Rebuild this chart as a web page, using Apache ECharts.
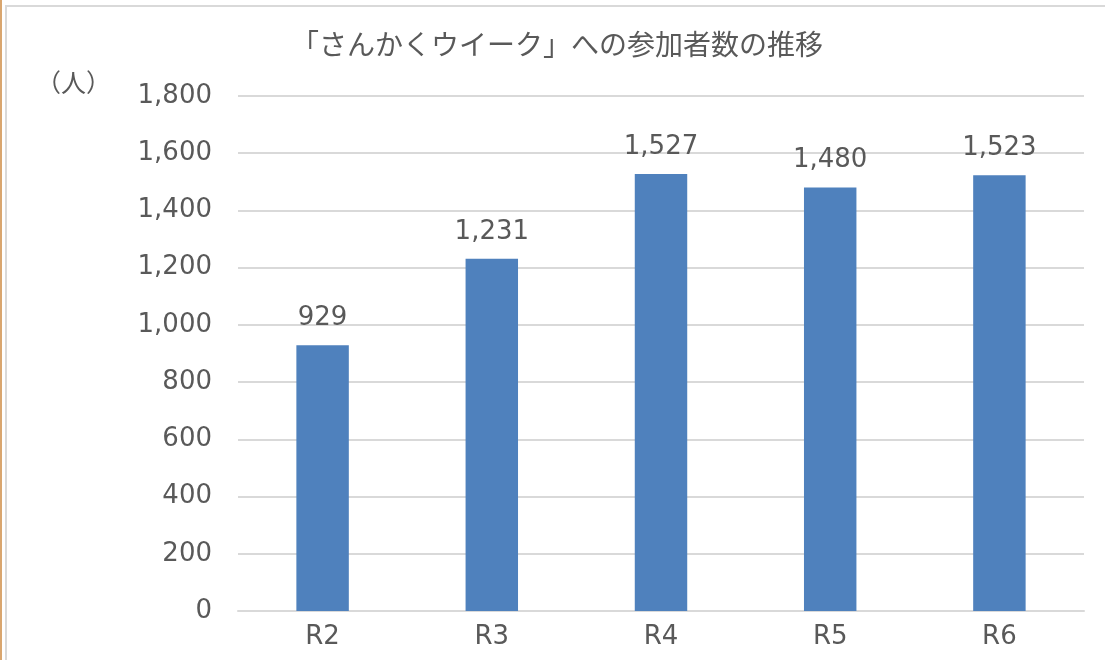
<!DOCTYPE html>
<html>
<head>
<meta charset="utf-8">
<script src="https://cdn.jsdelivr.net/npm/echarts@6/dist/echarts.min.js"></script>
<style>
  html, body { margin: 0; padding: 0; background: #fff; }
  #main { width: 1105px; height: 660px; }
</style>
</head>
<body>
<div id="main"></div>
<script>
// 年度と参加者数
var categories = ['R2', 'R3', 'R4', 'R5', 'R6'];
var participants = [929, 1231, 1527, 1480, 1523];
var yTicks = [0, 200, 400, 600, 800, 1000, 1200, 1400, 1600, 1800];

var fontJP = '"Noto Sans CJK JP", "Noto Sans", sans-serif';
var fontNum = '"DejaVu Sans", "Noto Sans CJK JP", sans-serif';
var textColor = '#595959';

var myChart = echarts.init(document.getElementById('main'));

var option = {
    backgroundColor: '#ffffff',
    animation: false,
    title: {
        text: '「さんかくウイーク」への参加者数の推移',
        left: 552,
        top: 25,
        textAlign: 'center',
        textStyle: {
            color: textColor,
            fontFamily: fontJP,
            fontSize: 28,
            fontWeight: 'normal'
        }
    },
    graphic: [
        // 外枠(左の茶色線とグレー枠)
        { type: 'line', shape: { x1: 1, y1: 0, x2: 1, y2: 660 }, style: { stroke: '#d9a66f', lineWidth: 2 } },
        { type: 'polyline', shape: { points: [[6, 660], [6, 6], [1105, 6]] }, style: { stroke: '#d9d9d9', lineWidth: 2, fill: null } },
        {
            type: 'text', left: 36, top: 70,
            style: { text: '（人）', fill: textColor, font: '25px ' + fontJP }
        }
    ],
    grid: {
        left: 238,
        right: 21,
        top: 96,
        bottom: 49
    },
    xAxis: {
        type: 'category',
        data: categories,
        axisTick: { show: false },
        axisLine: { lineStyle: { color: '#d9d9d9', width: 2 } },
        axisLabel: {
            color: textColor,
            fontFamily: fontNum,
            fontSize: 26,
            margin: 13
        }
    },
    yAxis: {
        type: 'value',
        min: yTicks[0],
        max: yTicks[yTicks.length - 1],
        interval: 200,
        axisLine: { show: false },
        axisTick: { show: false },
        splitLine: { lineStyle: { color: '#d9d9d9', width: 2 } },
        axisLabel: {
            color: textColor,
            fontFamily: fontNum,
            fontSize: 26,
            margin: 26,
            padding: [4, 0, 0, 0],
            formatter: function (v) { return v.toLocaleString('en-US'); }
        }
    },
    series: [{
        type: 'bar',
        data: participants,
        barWidth: '31%',
        itemStyle: { color: '#4f81bd' },
        label: {
            show: true,
            position: 'top',
            distance: 14,
            color: textColor,
            fontFamily: fontNum,
            fontSize: 26,
            formatter: function (p) { return p.value.toLocaleString('en-US'); }
        }
    }]
};

myChart.setOption(option);
</script>
</body>
</html>
